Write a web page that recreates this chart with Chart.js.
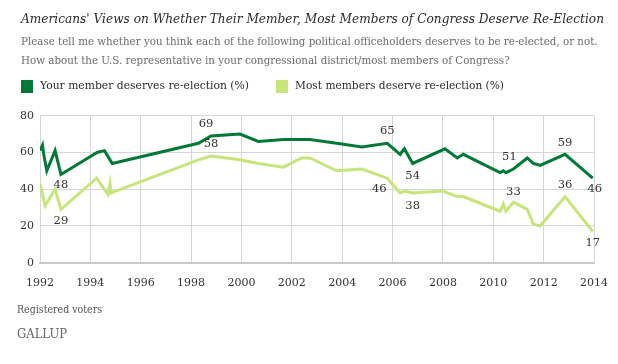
<!DOCTYPE html>
<html>
<head>
<meta charset="utf-8">
<script src="https://cdn.jsdelivr.net/npm/chart.js@4/dist/chart.umd.min.js"></script>
<style>
  html, body { margin: 0; padding: 0; background: #ffffff; }
  #wrap { position: relative; width: 618px; height: 364px; overflow: hidden; background: #fff; }
  #c { position: absolute; left: 0; top: 0; }
  .t { position: absolute; white-space: nowrap; font-family: "DejaVu Serif", "Liberation Serif", serif; transform-origin: 0 0; }
  .sq { position: absolute; }
</style>
</head>
<body>
<div id="wrap">
  <canvas id="c" width="618" height="364"></canvas>
</div>
<script>
// ---------- DATA ----------
const xTickYears = [1992, 1994, 1996, 1998, 2000, 2002, 2004, 2006, 2008, 2010, 2012, 2014];
const yTickValues = [0, 20, 40, 60, 80];

const seriesNames = ["Your member deserves re-election (%)", "Most members deserve re-election (%)"];

const memberYears = [1992.00, 1992.10, 1992.16, 1992.27, 1992.60, 1992.83, 1994.27, 1994.56, 1994.87,
  1998.29, 1998.79, 1999.94, 2000.67, 2001.66, 2002.39, 2002.72, 2003.78, 2004.78, 2005.79,
  2006.30, 2006.47, 2006.80, 2008.08, 2008.57, 2008.81, 2010.27, 2010.40, 2010.50, 2010.80,
  2011.35, 2011.59, 2011.86, 2012.85, 2013.95];
const memberValues = [61, 64, 58, 50, 61, 48, 60, 61, 54,
  65, 69, 70, 66, 67, 67, 67, 65, 63, 65,
  59, 62, 54, 62, 57, 59, 49, 50, 49, 51,
  57, 54, 53, 59, 46];

const mostYears = [1992.00, 1992.20, 1992.60, 1992.83, 1994.25, 1994.70, 1994.78, 1994.82,
  1998.29, 1998.79, 1999.94, 2000.67, 2001.66, 2002.39, 2002.72, 2003.78, 2004.78, 2005.79,
  2006.30, 2006.47, 2006.80, 2008.00, 2008.57, 2008.81, 2010.27, 2010.40, 2010.50, 2010.80,
  2011.35, 2011.59, 2011.86, 2012.85, 2013.95];
const mostValues = [43, 31, 40, 29, 46, 37, 43, 38,
  56, 58, 56, 54, 52, 57, 57, 50, 51, 46,
  38, 39, 38, 39, 36, 36, 28, 32, 28, 33,
  29, 21, 20, 36, 17];

// which points carry a value label
const memberLabelIndex = [5, 10, 18, 21, 28, 32, 33];
const mostLabelIndex = [3, 9, 17, 20, 27, 31, 32];

// ---------- STYLE / LAYOUT ----------
const darkGreen = "#017a36";
const lightGreen = "#c6e57a";
const memberLabelOffset = [[0, 11], [-5, -12], [0, -12], [0, 13], [-4, -12], [0, -11], [2, 11]];
const mostLabelOffset = [[0, 12], [0, -12], [-8, 11], [0, 13], [0, -10], [0, -12], [0, 12]];

const memberPoints = memberYears.map((x, i) => ({ x: x, y: memberValues[i] }));
const mostPoints = mostYears.map((x, i) => ({ x: x, y: mostValues[i] }));

const valueLabels = {
  id: "valueLabels",
  afterDatasetsDraw(chart) {
    const ctx = chart.ctx;
    const xs = chart.scales.x, ys = chart.scales.y;
    ctx.save();
    ctx.font = "11.5px 'DejaVu Serif', serif";
    ctx.fillStyle = "#333333";
    ctx.textAlign = "center";
    ctx.textBaseline = "middle";
    const draw = (years, vals, idx, off) => {
      idx.forEach((k, j) => {
        const px = xs.getPixelForValue(years[k]) + off[j][0];
        const py = ys.getPixelForValue(vals[k]) + off[j][1];
        ctx.fillText(String(vals[k]), px, py);
      });
    };
    draw(memberYears, memberValues, memberLabelIndex, memberLabelOffset);
    draw(mostYears, mostValues, mostLabelIndex, mostLabelOffset);
    ctx.restore();
  }
};

const whiteBg = {
  id: "whiteBg",
  beforeDraw(chart) {
    const ctx = chart.ctx;
    ctx.save();
    ctx.fillStyle = "#ffffff";
    ctx.fillRect(0, 0, chart.width, chart.height);
    ctx.restore();
  }
};

new Chart(document.getElementById("c"), {
  type: "line",
  data: {
    datasets: [
      { label: seriesNames[0], data: memberPoints, borderColor: darkGreen, backgroundColor: darkGreen,
        borderWidth: 3, pointRadius: 0, tension: 0, fill: false, borderJoinStyle: "miter" },
      { label: seriesNames[1], data: mostPoints, borderColor: lightGreen, backgroundColor: lightGreen,
        borderWidth: 3, pointRadius: 0, tension: 0, fill: false, borderJoinStyle: "miter" }
    ]
  },
  options: {
    responsive: false,
    animation: false,
    events: [],
    layout: { padding: { top: 115.7, right: 24, bottom: 71.3, left: 0 } },
    plugins: { legend: { display: false }, title: { display: false }, tooltip: { enabled: false } },
    scales: {
      x: {
        type: "linear",
        min: xTickYears[0],
        max: xTickYears[xTickYears.length - 1],
        afterBuildTicks(scale) { scale.ticks = xTickYears.map(v => ({ value: v })); },
        afterFit(scale) { scale.height = 30; scale.paddingLeft = 0; scale.paddingRight = 0; },
        grid: { color: "#d6d6d6", lineWidth: 1, drawTicks: false },
        border: { display: true, color: "#c9c9c9", width: 2 },
        ticks: { padding: 14, color: "#333333", maxRotation: 0, autoSkip: false,
          font: { family: "'DejaVu Serif', serif", size: 11 },
          callback: (v) => String(v) }
      },
      y: {
        min: 0, max: 80,
        afterBuildTicks(scale) { scale.ticks = yTickValues.map(v => ({ value: v })); },
        afterFit(scale) { scale.width = 40; scale.paddingTop = 0; scale.paddingBottom = 0; },
        grid: { color: "#d6d6d6", lineWidth: 1, drawTicks: false },
        border: { display: false },
        ticks: { padding: 6, color: "#333333",
          font: { family: "'DejaVu Serif', serif", size: 11 },
          callback: (v) => String(v) }
      }
    }
  },
  plugins: [whiteBg, valueLabels]
});

// ---------- HTML TEXT ----------
const wrap = document.getElementById("wrap");
function addText(text, x, baseline, fs, targetW, style) {
  const d = document.createElement("div");
  d.className = "t";
  d.textContent = text;
  d.style.fontSize = fs + "px";
  d.style.lineHeight = fs + "px";
  d.style.left = x + "px";
  d.style.top = (baseline - 0.846 * fs) + "px";
  Object.assign(d.style, style || {});
  wrap.appendChild(d);
  let sx = 1;
  if (targetW) {
    const w = d.getBoundingClientRect().width;
    sx = targetW / w;
    d.style.transform = "scaleX(" + sx + ")";
  }
  return sx;
}
function addSquare(x, y, w, h, color) {
  const s = document.createElement("div");
  s.className = "sq";
  Object.assign(s.style, { left: x + "px", top: y + "px", width: w + "px", height: h + "px", background: color });
  wrap.appendChild(s);
}

addText("Americans' Views on Whether Their Member, Most Members of Congress Deserve Re-Election",
  20.7, 22.7, 13.2, 583, { fontStyle: "italic", color: "#2b2b2b" });
const sxSub = addText("Please tell me whether you think each of the following political officeholders deserves to be re-elected, or not.",
  20.7, 44.8, 10.6, 576.6, { color: "#6b6b6b" });
addText("How about the U.S. representative in your congressional district/most members of Congress?",
  20.7, 63.8, 10.6, null, { color: "#6b6b6b" });
wrap.lastChild.style.transform = "scaleX(" + sxSub + ")";

addSquare(20.7, 80, 12, 12.5, darkGreen);
addSquare(275.6, 80, 12, 12.5, lightGreen);
addText(seriesNames[0], 40, 90, 11.6, 209, { color: "#2b2b2b" });
addText(seriesNames[1], 295, 90, 11.6, 209, { color: "#2b2b2b" });

addText("Registered voters", 16.6, 314.5, 10.8, 85, { color: "#555555" });
addText("GALLUP", 16.6, 338, 12, 50, { color: "#666666" });
</script>
</body>
</html>
